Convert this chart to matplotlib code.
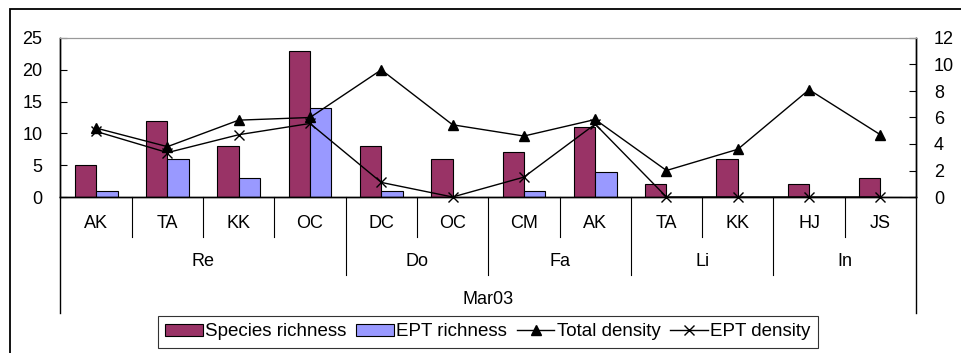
import matplotlib
matplotlib.use("Agg")
import matplotlib.pyplot as plt
import matplotlib.transforms as mtransforms
from matplotlib.lines import Line2D
from matplotlib.patches import Rectangle
import numpy as np

plt.rcParams['font.family'] = ['Liberation Sans', 'DejaVu Sans']

sites = ["AK", "TA", "KK", "OC", "DC", "OC", "CM", "AK", "TA", "KK", "HJ", "JS"]
groups = ["Re", "Do", "Fa", "Li", "In"]
group_sizes = [4, 2, 2, 2, 2]
top_label = "Mar03"
species_richness = [5, 12, 8, 23, 8, 6, 7, 11, 2, 6, 2, 3]
ept_richness = [1, 6, 3, 14, 1, 0, 1, 4, 0, 0, 0, 0]
total_density = [5.2, 3.8, 5.8, 6.0, 9.6, 5.45, 4.6, 5.85, 2.0, 3.6, 8.1, 4.7]
ept_density = [4.95, 3.35, 4.7, 5.55, 1.1, 0.0, 1.5, 5.5, 0.0, 0.0, 0.0, 0.0]

W, H = 962, 353
FS = 13
fig = plt.figure(figsize=(W / 100, H / 100), dpi=100)

# outer frame
fig.patches.append(Rectangle((10 / W, -0.1), 1.2, (H - 9) / H + 0.1, transform=fig.transFigure,
                             fill=False, edgecolor="black", linewidth=1.3))

left, right, top, bottom = 60.5, 916, 38, 197
ax = fig.add_axes([left / W, 1 - bottom / H, (right - left) / W, (bottom - top) / H])
ax2 = ax.twinx()

x = np.arange(len(sites))
bw = 0.3
ax.bar(x - bw / 2, species_richness, bw, color="#993366", edgecolor="black", linewidth=0.8,
       label="Species richness", zorder=2)
ax.bar(x + bw / 2, ept_richness, bw, color="#9999FF", edgecolor="black", linewidth=0.8,
       label="EPT richness", zorder=2)
ax2.plot(x, total_density, color="black", marker="^", markersize=7, linewidth=1.0,
         label="Total density", clip_on=False)
ax2.plot(x, ept_density, color="black", marker="x", markersize=7, markeredgewidth=1.0,
         linewidth=1.0, label="EPT density", clip_on=False)

ax.set_xlim(-0.5, len(sites) - 0.5)
ax.set_ylim(0, 25)
ax.set_yticks([0, 5, 10, 15, 20, 25])
ax2.set_ylim(0, 12)
ax2.set_yticks([0, 2, 4, 6, 8, 10, 12])
for a in (ax, ax2):
    a.tick_params(axis="y", direction="in", length=5, labelsize=FS, width=0.8, pad=13)
    a.spines["top"].set_color("#999999")
    a.spines["left"].set_linewidth(1.0)
    a.spines["right"].set_linewidth(1.0)
    a.spines["bottom"].set_linewidth(1.0)
ax.set_xticks([])
ax2.set_xticks([])

# hierarchical category axis
trans = mtransforms.blended_transform_factory(ax.transData, fig.transFigure)
def fy(py):
    return 1 - py / H

boundaries = np.cumsum(group_sizes)
for i in range(1, len(sites)):
    xb = i - 0.5
    ybot = 275 if i in boundaries else 237
    fig.add_artist(Line2D([xb, xb], [fy(bottom), fy(ybot)], transform=trans, color="black", linewidth=0.8))
for xb in (-0.5, len(sites) - 0.5):
    fig.add_artist(Line2D([xb, xb], [fy(bottom), fy(313)], transform=trans, color="black", linewidth=1.0))

for i, s in enumerate(sites):
    fig.text(i, fy(223), s, transform=trans, ha="center", va="center", fontsize=FS)

start = 0
for g, n in zip(groups, group_sizes):
    c = start + (n - 1) / 2
    fig.text(c, fy(262), g, transform=trans, ha="center", va="center", fontsize=FS)
    start += n
fig.text((len(sites) - 1) / 2, fy(300), top_label, transform=trans, ha="center", va="center", fontsize=FS)

h1, l1 = ax.get_legend_handles_labels()
h2, l2 = ax2.get_legend_handles_labels()
leg = fig.legend(h1 + h2, l1 + l2, loc="center", bbox_to_anchor=((155 + 821) / 2 / W, fy(332)),
                 ncol=4, frameon=True, fancybox=False, edgecolor="black", fontsize=13.5,
                 handlelength=2.0, handleheight=0.6, handletextpad=0.15, columnspacing=0.5,
                 borderpad=0.4, borderaxespad=0)
leg.get_frame().set_linewidth(0.8)

fig.savefig("out.png", dpi=100)
